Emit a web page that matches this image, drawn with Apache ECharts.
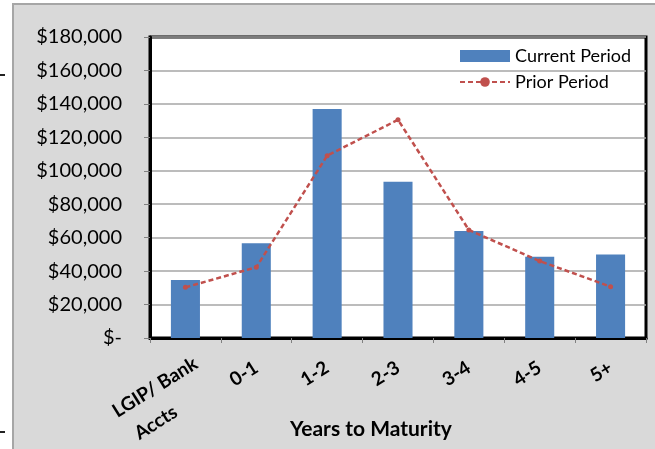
<!DOCTYPE html>
<html>
<head>
<meta charset="utf-8">
<script src="https://cdn.jsdelivr.net/npm/echarts@6/dist/echarts.min.js"></script>
<style>
html,body{margin:0;padding:0;background:#fff;}
#c{width:655px;height:449px;}
</style>
</head>
<body>
<div id="c"></div>
<script>
var categories = ['LGIP/ Bank\nAccts', '0-1', '1-2', '2-3', '3-4', '4-5', '5+'];
var currentPeriod = [34700, 56600, 137000, 93500, 64000, 48600, 50000];
var priorPeriod = [30300, 42300, 109000, 130500, 64600, 46000, 30700];
var yTicks = [0, 20000, 40000, 60000, 80000, 100000, 120000, 140000, 160000, 180000];

function fmt(v) {
  if (v === 0) return '$-';
  var s = String(Math.round(v));
  var out = '';
  while (s.length > 3) { out = ',' + s.slice(-3) + out; s = s.slice(0, -3); }
  return '$' + s + out;
}
function catFmt(v) {
  var lines = v.split('\n');
  return lines.map(function (l, i) { return (i === 0 ? '{c|' : '{d|') + l + '}'; }).join('\n');
}

// the two-line first label sits a little further right, as in the reference
var categoryItems = categories.map(function (c, i) {
  return i === 0 ? {value: c, textStyle: {padding: [44, -11, 0, 0]}} : c;
});

var FONT = 'Lato';
var chart = echarts.init(document.getElementById('c'), null, {renderer: 'canvas'});
chart.setOption({
  animation: false,
  backgroundColor: '#ffffff',
  textStyle: {fontFamily: FONT},
  graphic: [
    {type: 'rect', z: -10, shape: {x: 13, y: 4, width: 660, height: 460}, style: {fill: '#d9d9d9', stroke: '#a6a6a6', lineWidth: 2}},
    {type: 'rect', z: -10, shape: {x: 0, y: 74, width: 5, height: 2}, style: {fill: '#222'}},
    {type: 'rect', z: -10, shape: {x: 0, y: 431, width: 5, height: 2}, style: {fill: '#222'}},
    {type: 'text', z: 10, left: 290, top: 419, style: {text: 'Years to Maturity', font: 'bold 21px ' + FONT, fill: '#000'}}
  ],
  grid: {left: 150, right: 9, top: 37, bottom: 111, show: true, backgroundColor: '#ffffff', borderColor: '#000', borderWidth: 3},
  legend: {
    orient: 'vertical', left: 454, top: 42, itemGap: 8, itemWidth: 50, itemHeight: 12,
    textStyle: {fontFamily: FONT, fontSize: 18, color: '#000'},
    data: [
      {name: 'Current Period', icon: 'rect'},
      {name: 'Prior Period'}
    ]
  },
  xAxis: {
    type: 'category', data: categoryItems,
    axisLine: {show: true, lineStyle: {color: '#000', width: 3}},
    axisTick: {show: true, length: 5, lineStyle: {color: '#808080'}},
    axisLabel: {rotate: 32, formatter: catFmt, color: '#000', margin: 28,
      rich: {
        c: {align: 'center', fontSize: 19, fontWeight: 'bold', fontFamily: FONT, lineHeight: 21, color: '#000'},
        d: {align: 'center', fontSize: 19, fontWeight: 'bold', fontFamily: FONT, lineHeight: 40, color: '#000', padding: [0, 36, 0, 0]}
      }},
    splitLine: {show: false}
  },
  yAxis: {
    type: 'value', min: 0, max: 180000, interval: 20000,
    axisLine: {show: true, lineStyle: {color: '#000', width: 3}},
    axisTick: {show: true, length: 6, lineStyle: {color: '#808080'}},
    axisLabel: {formatter: fmt, fontSize: 20, color: '#000', margin: 28, fontFamily: FONT},
    splitLine: {show: true, lineStyle: {color: '#a6a6a6', width: 1.5}}
  },
  series: [
    {name: 'Current Period', type: 'bar', data: currentPeriod, barWidth: '41%', itemStyle: {color: '#4f81bd'}},
    {name: 'Prior Period', type: 'line', data: priorPeriod, symbol: 'circle', symbolSize: 5,
     itemStyle: {color: '#c0504d'}, lineStyle: {color: '#c0504d', width: 2.5, type: [5, 3]}}
  ]
});
</script>
</body>
</html>
